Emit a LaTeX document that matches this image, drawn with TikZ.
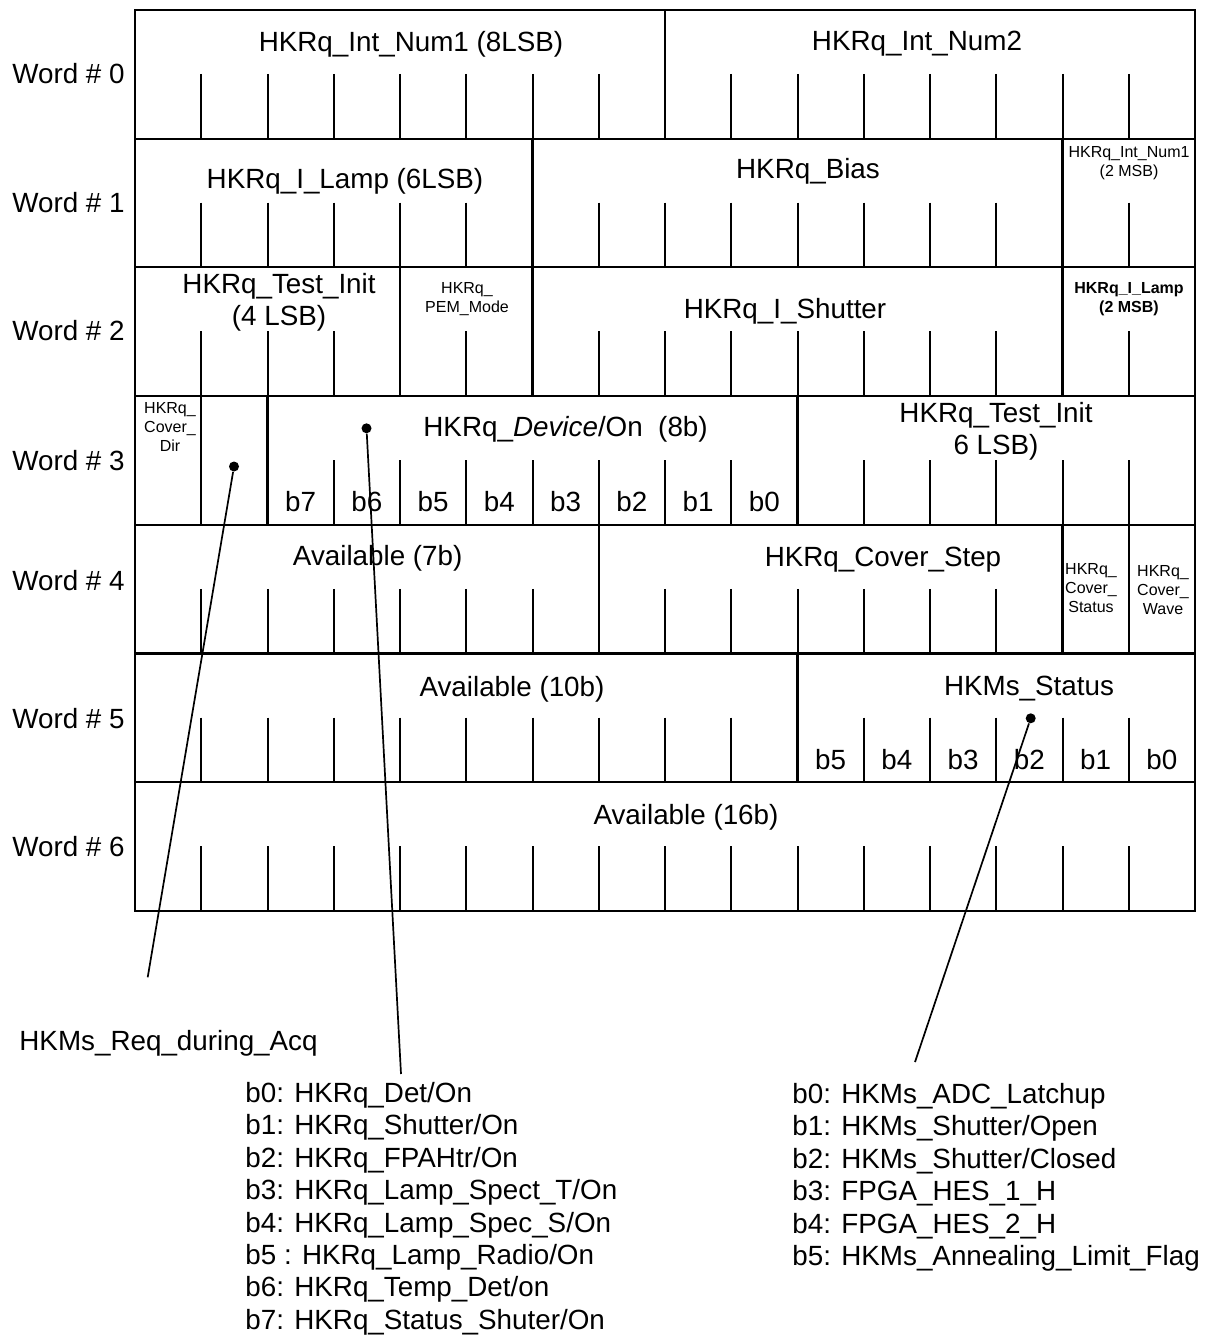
\documentclass[tikz,border=0pt]{standalone}
\usepackage{fontspec}
\setmainfont{Liberation Sans}
\usetikzlibrary{arrows.meta,positioning,calc}
\newcommand{\bigfont}{\fontsize{13.9pt}{16.2pt}\selectfont}
\newcommand{\tinyfont}{\fontsize{8pt}{9.5pt}\selectfont}
\tikzset{
  frame/.style      = {line width=1.1pt},
  bittick/.style    = {line width=1pt},
  field/.style      = {font=\bigfont, inner sep=0pt, anchor=north, align=center},
  smallfield/.style = {font=\tinyfont, inner sep=0pt, anchor=north, align=center},
  wordlbl/.style    = {font=\bigfont, inner sep=0pt, anchor=north east},
  legend/.style     = {font=\bigfont, inner sep=0pt, anchor=north west, align=left},
  tap/.style        = {fill, circle, inner sep=0pt, minimum size=5pt},
  lead/.style       = {line width=0.85pt},
}
% short ticks at bit boundaries #2 in word #1
\newcommand{\ticks}[2]{\foreach \k in {#2}
  \draw[bittick] ({135+66.25*\k},{74+128.7*#1}) -- ({135+66.25*\k},{138.7+128.7*#1});}
% full height field separators
\newcommand{\seps}[2]{\foreach \k in {#2}
  \draw[frame] ({135+66.25*\k},{10+128.7*#1}) -- ({135+66.25*\k},{138.7+128.7*#1});}
% bit names b#3 at bit column #2 in word #1
\newcommand{\bitname}[3]{\node[field] (w#1b#3) at ({135+66.25*(#2+0.5)},{10+128.7*#1+95}) {b#3};}

\begin{document}
\begin{tikzpicture}[x=0.5pt,y=-0.5pt]
\useasboundingbox (0,0) rectangle (1208,1336);

% table
\draw[frame] (135,10) rectangle (1195,910.9);
\foreach \r in {1,...,6}
  \draw[frame] (135,{10+128.7*\r}) -- (1195,{10+128.7*\r});
\ticks{0}{1,2,3,4,5,6,7,9,10,11,12,13,14,15}
\ticks{1}{1,2,3,4,5,7,8,9,10,11,12,13,15}
\ticks{2}{1,2,3,5,7,8,9,10,11,12,13,15}
\ticks{3}{3,4,5,6,7,8,9,11,12,13,14,15}
\ticks{4}{1,2,3,4,5,6,8,9,10,11,12,13}
\ticks{5}{1,2,3,4,5,6,7,8,9,11,12,13,14,15}
\ticks{6}{1,2,3,4,5,6,7,8,9,10,11,12,13,14,15}
\seps{0}{8}
\seps{1}{6,14}
\seps{2}{4,6,14}
\seps{3}{1,2,10}
\seps{4}{7,14,15}
\seps{5}{10}

% word numbers
\node[wordlbl] (w0) at (125,63) {Word \# 0};
\node[wordlbl] (w1) at (125,192) {Word \# 1};
\node[wordlbl] (w2) at (125,320) {Word \# 2};
\node[wordlbl] (w3) at (125,450) {Word \# 3};
\node[wordlbl] (w4) at (125,570) {Word \# 4};
\node[wordlbl] (w5) at (125,708) {Word \# 5};
\node[wordlbl] (w6) at (125,836) {Word \# 6};

% word 0
\node[field] (intnum1) at (411,31) {HKRq\_Int\_Num1 (8LSB)};
\node[field] (intnum2) at (917,31) {HKRq\_Int\_Num2};
% word 1
\node[field] (ilamp) at (345,168) {HKRq\_I\_Lamp (6LSB)};
\node[field] (bias) at (808,158) {HKRq\_Bias};
\node[smallfield] (intnummsb) at (1129,146.5) {HKRq\_Int\_Num1\\(2 MSB)};
% word 2
\node[field] (testinit) at (279,272.5) {HKRq\_Test\_Init\\(4 LSB)};
\node[smallfield] (pem) at (467,282.5) {HKRq\_\\PEM\_Mode};
\node[field] (ishutter) at (785,298) {HKRq\_I\_Shutter};
\node[smallfield, font=\tinyfont\bfseries] (ilampmsb) at (1129,282.5) {HKRq\_I\_Lamp\\(2 MSB)};
% word 3
\node[smallfield] (coverdir) at (170,402.5) {HKRq\_\\Cover\_\\Dir};
\node[field, anchor=north west] (device) at (423,416) {HKRq\_\textit{Device}/On~~(8b)};
\node[field] (testinitlsb) at (996,402) {HKRq\_Test\_Init\\6 LSB)};
\bitname{3}{2}{7}
\bitname{3}{3}{6}
\bitname{3}{4}{5}
\bitname{3}{5}{4}
\bitname{3}{6}{3}
\bitname{3}{7}{2}
\bitname{3}{8}{1}
\bitname{3}{9}{0}
% word 4
\node[field] (avail7) at (377.7,545) {Available (7b)};
\node[field] (coverstep) at (883,547) {HKRq\_Cover\_Step};
\node[smallfield] (coverstatus) at (1091,563.5) {HKRq\_\\Cover\_\\Status};
\node[smallfield] (coverwave) at (1163,565.5) {HKRq\_\\Cover\_\\Wave};
% word 5
\node[field] (avail10) at (512,676) {Available (10b)};
\node[field] (msstatus) at (1029,676) {HKMs\_Status};
\bitname{5}{10}{5}
\bitname{5}{11}{4}
\bitname{5}{12}{3}
\bitname{5}{13}{2}
\bitname{5}{14}{1}
\bitname{5}{15}{0}
% word 6
\node[field] (avail16) at (686,804) {Available (16b)};

% bit legends
\node[legend] (acq) at (19,1030) {HKMs\_Req\_during\_Acq};
\node[legend] (devlist) at (245,1082) {b0: HKRq\_Det/On\\
  b1: HKRq\_Shutter/On\\
  b2: HKRq\_FPAHtr/On\\
  b3: HKRq\_Lamp\_Spect\_T/On\\
  b4: HKRq\_Lamp\_Spec\_S/On\\
  b5 : HKRq\_Lamp\_Radio/On\\
  b6: HKRq\_Temp\_Det/on\\
  b7: HKRq\_Status\_Shuter/On};
\node[legend] (mslist) at (792,1083) {b0: HKMs\_ADC\_Latchup\\
  b1: HKMs\_Shutter/Open\\
  b2: HKMs\_Shutter/Closed\\
  b3: FPGA\_HES\_1\_H\\
  b4: FPGA\_HES\_2\_H\\
  b5: HKMs\_Annealing\_Limit\_Flag};

% leaders
\node[tap] (acqdot) at (234,466.5) {};
\coordinate (acqend) at (147.7,977.3);
\draw[lead] (acqdot) -- (acqend);
\node[tap] (devdot) at (366.5,428.3) {};
\coordinate (devend) at (401,1074);
\draw[lead] (devdot) -- (devend);
\node[tap] (msdot) at (1030.7,718.3) {};
\coordinate (msend) at (915,1062);
\draw[lead] (msdot) -- (msend);
\end{tikzpicture}
\end{document}
